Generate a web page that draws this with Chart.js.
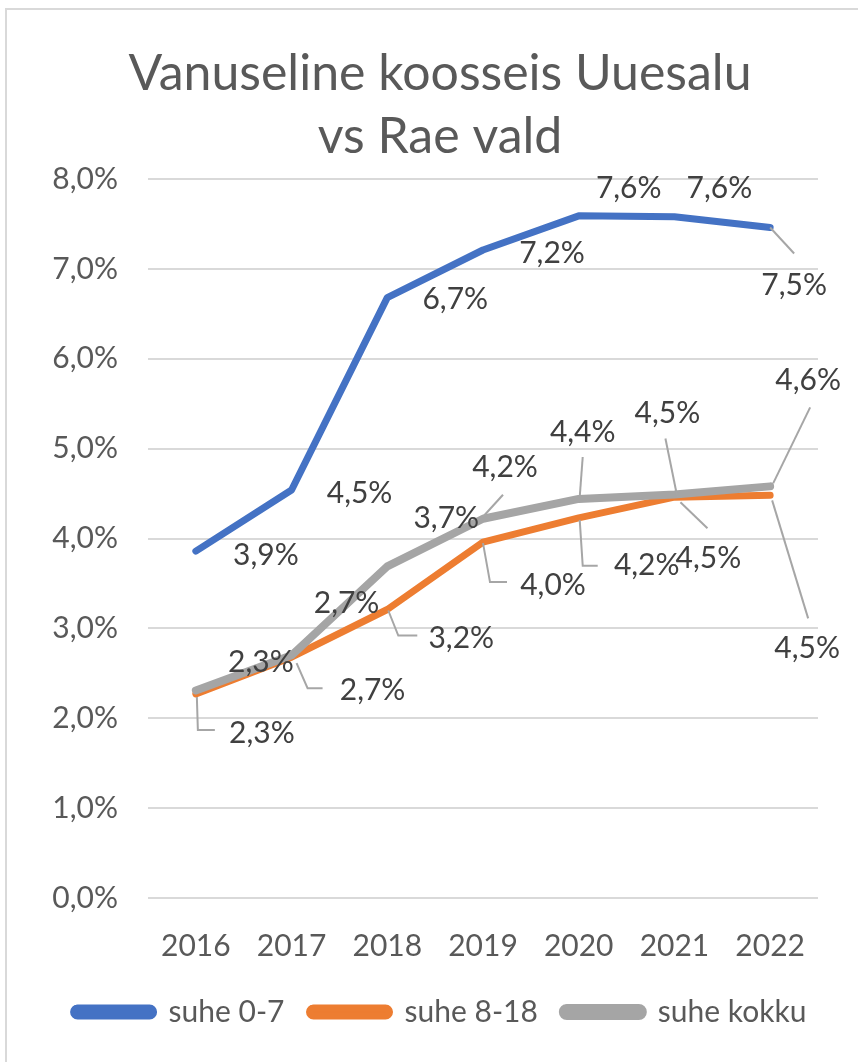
<!DOCTYPE html>
<html>
<head>
<meta charset="utf-8">
<script src="https://cdn.jsdelivr.net/npm/chart.js@4"></script>
<style>
  body { margin: 0; background: #fff; }
  #wrap { position: relative; width: 858px; height: 1062px; overflow: hidden; }
  #frame { position: absolute; left: 5px; top: 8px; width: 900px; height: 1100px; border: 2px solid #d9d9d9; }
  canvas { position: absolute; left: 0; top: 0; }
</style>
</head>
<body>
<div id="wrap">
  <div id="frame"></div>
  <canvas id="line-chart" width="858" height="1062"></canvas>
</div>
<script>
var years = ['2016', '2017', '2018', '2019', '2020', '2021', '2022'];
var suhe07 = [3.86, 4.54, 6.68, 7.21, 7.59, 7.58, 7.46];
var suhe818 = [2.27, 2.68, 3.21, 3.96, 4.23, 4.46, 4.48];
var suheKokku = [2.31, 2.70, 3.69, 4.22, 4.44, 4.49, 4.58];

// label placement (text centre, px from the point) and leader lines
var pos07 = [[70,4],[68,3],[68,2],[69,3],[50,-28],[45,-28],[24,58]];
var lead07 = [null,null,null,null,null,null,[[0,0],[24,26]]];
var pos818 = [[66,39],[81,33],[74,29],[70,43],[68,47],[34,61],[37,153]];
var lead818 = [
  [[1,3],[2,36],[19,36]],
  [[5,6],[16,31],[31,31]],
  [[1,1],[11,26],[30,26]],
  [[0,1],[7,40],[24,40]],
  [[1,2],[4,48],[19,48]],
  [[6,5],[33,31]],
  [[2,5],[38,123]]
];
var posKokku = [[65,-28],[55,-52],[59,-48],[22,-51],[4,-67],[-7,-81],[38,-106]];
var leadKokku = [null,null,null,[[0,-2],[20,-24]],[[1,-2],[4,-42]],[[3,3],[-9,-56]],[[3,-3],[40,-79]]];

var font = 'Lato';

function pct(v) {
  return v.toFixed(1).replace('.', ',') + '%';
}

var valueLabels = {
  id: 'valueLabels',
  afterDatasetsDraw: function(chart) {
    var ctx = chart.ctx;
    ctx.save();
    chart.data.datasets.forEach(function(ds, i) {
      var meta = chart.getDatasetMeta(i);
      meta.data.forEach(function(pt, j) {
        var lead = ds.leaders[j];
        if (lead) {
          ctx.beginPath();
          lead.forEach(function(p, k) {
            if (k == 0) ctx.moveTo(pt.x + p[0], pt.y + p[1]);
            else ctx.lineTo(pt.x + p[0], pt.y + p[1]);
          });
          ctx.strokeStyle = '#a6a6a6';
          ctx.lineWidth = 2;
          ctx.stroke();
        }
      });
    });
    ctx.font = '30px ' + font;
    ctx.fillStyle = '#404040';
    ctx.textAlign = 'center';
    ctx.textBaseline = 'middle';
    chart.data.datasets.forEach(function(ds, i) {
      var meta = chart.getDatasetMeta(i);
      meta.data.forEach(function(pt, j) {
        var off = ds.labelPos[j];
        ctx.fillText(pct(ds.data[j]), pt.x + off[0], pt.y + off[1]);
      });
    });
    ctx.restore();
  }
};

var ctx = document.getElementById('line-chart');

var myChart = new Chart(ctx, {
  type: 'line',
  data: {
    labels: years,
    datasets: [
      {
        label: 'suhe 0-7',
        data: suhe07,
        borderColor: '#4472c4',
        backgroundColor: '#4472c4',
        borderWidth: 7,
        order: 2,
        labelPos: pos07,
        leaders: lead07
      },
      {
        label: 'suhe 8-18',
        data: suhe818,
        borderColor: '#ed7d31',
        backgroundColor: '#ed7d31',
        borderWidth: 7,
        order: 1,
        labelPos: pos818,
        leaders: lead818
      },
      {
        label: 'suhe kokku',
        data: suheKokku,
        borderColor: '#a5a5a5',
        backgroundColor: '#a5a5a5',
        borderWidth: 8,
        order: 0,
        labelPos: posKokku,
        leaders: leadKokku
      }
    ]
  },
  options: {
    responsive: false,
    animation: false,
    layout: { padding: { left: 22, right: 0, top: 0, bottom: 25 } },
    elements: {
      point: { radius: 0, hoverRadius: 0 },
      line: { tension: 0, fill: false, borderCapStyle: 'round', borderJoinStyle: 'round' }
    },
    scales: {
      x: {
        offset: true,
        afterFit: function(s) { s.height -= 14; },
        grid: { display: false },
        border: { display: false },
        ticks: { color: '#595959', font: { family: font, size: 30 }, padding: 22 }
      },
      y: {
        min: 0,
        max: 8,
        afterFit: function(s) { s.width = 126; },
        grid: { color: '#d9d9d9', lineWidth: 2, drawTicks: false },
        border: { display: false },
        ticks: {
          stepSize: 1,
          padding: 30,
          color: '#595959',
          font: { family: font, size: 30 },
          callback: function(v) { return pct(v); }
        }
      },
      // empty right axis, only keeps space at the right of the plot
      yRight: {
        position: 'right',
        min: 0,
        max: 8,
        afterFit: function(s) { s.width = 40; },
        grid: { display: false },
        border: { display: false },
        ticks: { display: false }
      }
    },
    plugins: {
      tooltip: { enabled: false },
      title: {
        display: true,
        text: ['Vanuseline koosseis Uuesalu', 'vs Rae vald'],
        color: '#595959',
        font: { family: font, size: 50, weight: 'normal', lineHeight: 1.26 },
        padding: { top: 42, bottom: 11 }
      },
      legend: {
        position: 'bottom',
        reverse: true,
        labels: {
          color: '#595959',
          font: { family: font, size: 30 },
          boxWidth: 80,
          boxHeight: 8,
          useBorderRadius: true,
          borderRadius: 4,
          padding: 25
        }
      }
    }
  },
  plugins: [valueLabels]
});
</script>
</body>
</html>
